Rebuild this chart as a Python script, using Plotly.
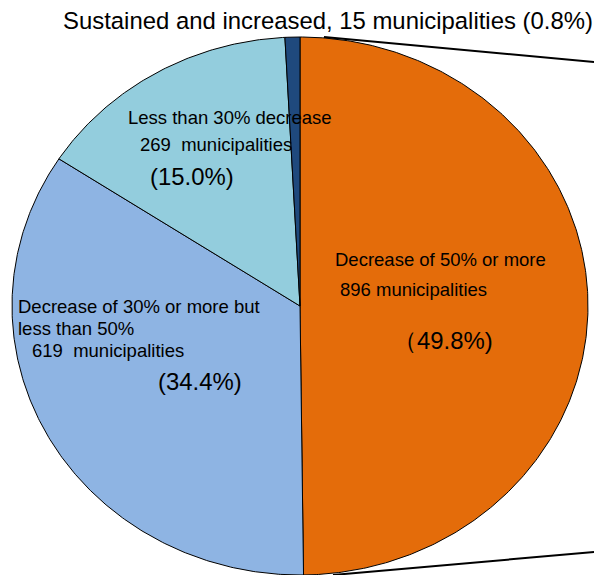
import numpy as np
import plotly.graph_objects as go

# Municipalities by change category (clockwise from 12 o'clock)
categories = [
    "Decrease of 50% or more",
    "Decrease of 30% or more but less than 50%",
    "Less than 30% decrease",
    "Sustained and increased",
]
counts = [896, 619, 269, 15]
percents = [49.8, 34.4, 15.0, 0.8]
colors = ["#E46C0A", "#8EB4E3", "#93CDDD", "#1F497D"]

W, H = 594, 575
CX, CY = 300, 306          # pie centre in pixels
RX, RY = 288, 269          # horizontal / vertical radius in pixels

# axis ranges so one data unit equals the pie radius
x_range = [-CX / RX, (W - CX) / RX]
y_range = [-(H - CY) / RY, CY / RY]


def px(x):
    return x / W


def py(y):
    return 1 - y / H


fig = go.Figure()

total = sum(counts)
start = 0.0
for name, n, col in zip(categories, counts, colors):
    frac = n / total
    theta = np.linspace(start, start + frac, max(int(frac * 720), 4)) * 2 * np.pi
    xs = np.concatenate([[0], np.sin(theta), [0]])
    ys = np.concatenate([[0], np.cos(theta), [0]])
    fig.add_trace(go.Scatter(
        x=xs, y=ys, mode="lines", fill="toself", fillcolor=col,
        line=dict(color="black", width=1), name=name,
        hoverinfo="name", showlegend=False,
    ))
    start += frac

# connector lines running out to the detail chart on the right
fig.add_shape(type="line", xref="x", yref="y",
              x0=(324 - CX) / RX, y0=(CY - 37) / RY,
              x1=x_range[1], y1=(CY - 62) / RY,
              line=dict(color="black", width=2))
fig.add_shape(type="line", xref="x", yref="y",
              x0=(333 - CX) / RX, y0=(CY - 575) / RY,
              x1=x_range[1], y1=(CY - 552) / RY,
              line=dict(color="black", width=2))

FONT = "Arial, Liberation Sans, sans-serif"
small, big, title = 18.5, 23.9, 23.9
nb = "\u00a0"

labels = [
    # (text, left px, centre px, size)
    (f"{categories[3]}, {counts[3]} municipalities ({percents[3]}%)", 62, 20, title),
    ("Less than 30% decrease", 127, 117, small),
    (f"{counts[2]}{nb} municipalities", 139, 144, small),
    (f"({percents[2]:.1f}%)", 149, 177, big),
    ("Decrease of 30% or more but", 17, 306, small),
    ("less than 50%", 17, 328, small),
    (f"{counts[1]}{nb} municipalities", 31, 350, small),
    (f"({percents[1]:.1f}%)", 157, 381, big),
    ("Decrease of 50% or more", 334, 259, small),
    (f"{counts[0]} municipalities", 339, 289, small),
    (f"\uff08{percents[0]:.1f}%)", 392, 340, big),
]
for text, lx, cy, size in labels:
    fig.add_annotation(
        text=text, x=px(lx), y=py(cy), xref="paper", yref="paper",
        xanchor="left", yanchor="middle", showarrow=False,
        font=dict(family=FONT, size=size, color="black"),
        borderpad=0,
    )

fig.update_xaxes(range=x_range, visible=False, showgrid=False, zeroline=False)
fig.update_yaxes(range=y_range, visible=False, showgrid=False, zeroline=False)
fig.update_layout(
    width=W, height=H, autosize=False,
    margin=dict(l=0, r=0, t=0, b=0, pad=0),
    paper_bgcolor="white", plot_bgcolor="white",
    showlegend=False,
)

fig.write_html("out.html")
